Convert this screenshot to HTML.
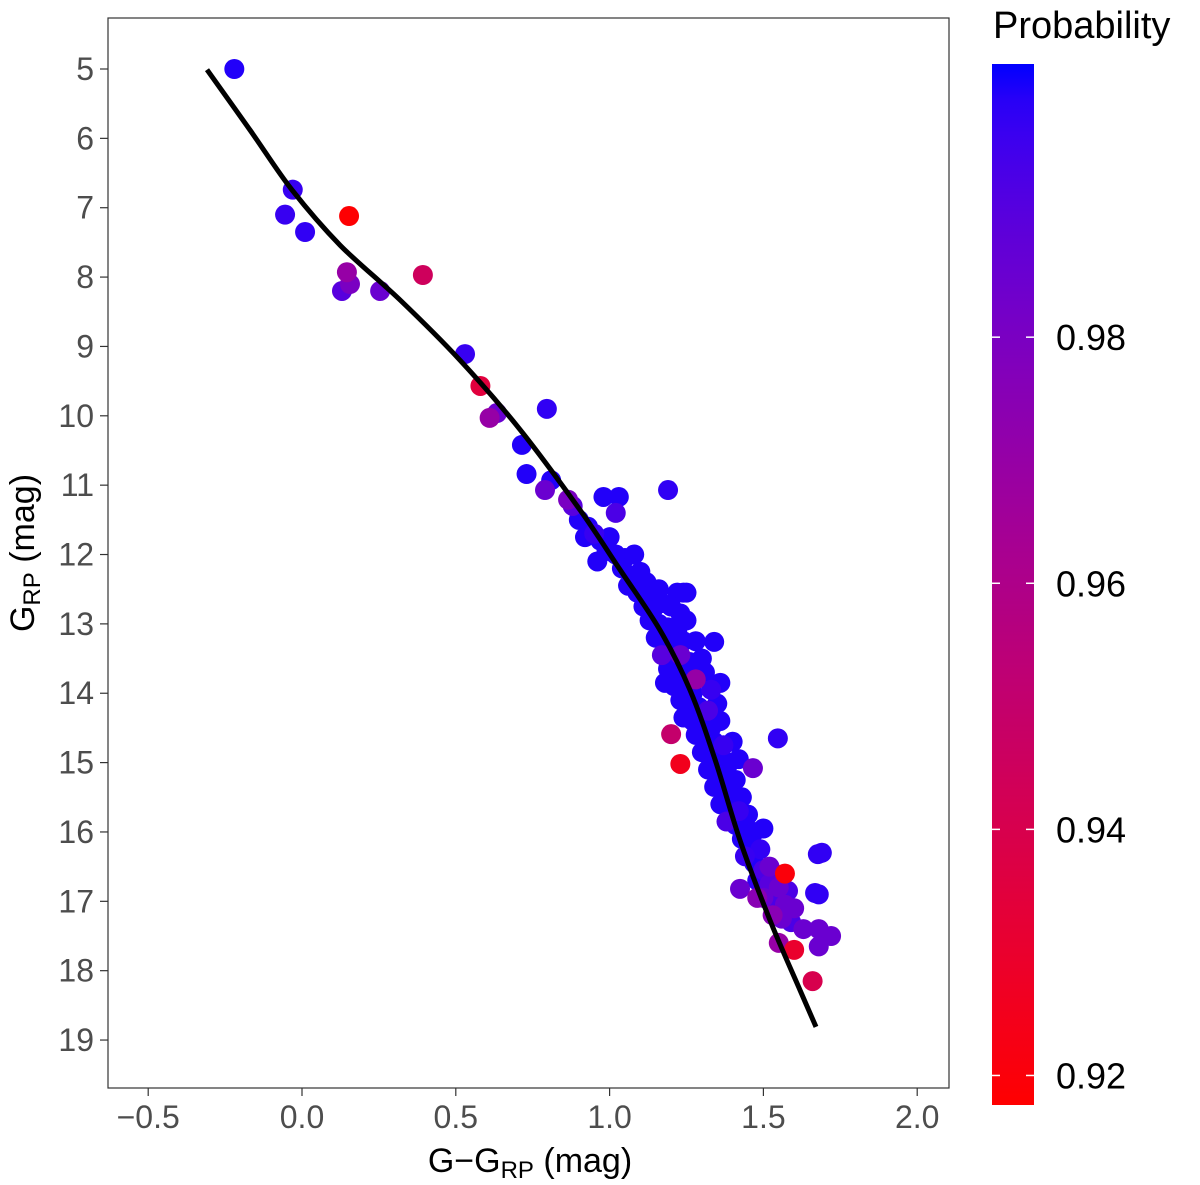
<!DOCTYPE html>
<html><head><meta charset="utf-8"><style>
html,body{margin:0;padding:0;background:#fff;}
svg{display:block;font-family:"Liberation Sans",sans-serif;}
</style></head><body>
<svg id="chart" width="1200" height="1185" viewBox="0 0 1200 1185">
<defs>
<linearGradient id="cbgrad" x1="0" y1="1" x2="0" y2="0"></linearGradient>
</defs>
<rect x="108" y="18" width="841" height="1070" fill="#fff" stroke="#333" stroke-width="1.2"/>
<g id="points"></g>
<g id="curve"></g>
<g id="xaxis"></g>
<g id="yaxis"></g>
<text x="530" y="1172" text-anchor="middle" font-size="34" fill="#000">G−G<tspan font-size="24" dy="6">RP</tspan><tspan dy="-6"> (mag)</tspan></text>
<text transform="translate(34,553) rotate(-90)" text-anchor="middle" font-size="34" fill="#000">G<tspan font-size="24" dy="6">RP</tspan><tspan dy="-6"> (mag)</tspan></text>
<text x="993" y="38" font-size="38" fill="#000">Probability</text>
<rect x="992" y="64" width="42" height="1041" fill="url(#cbgrad)"/>
<g id="legend"></g>
</svg>
<script>
const colorVals=[-0.22,-0.03,-0.055,0.01,0.153,0.146,0.156,0.13,0.254,0.393,0.53,0.58,0.796,0.634,0.61,0.715,0.73,0.81,0.79,0.865,0.98,1.03,1.02,1.19,1.547,1.2,1.23,1.466,1.677,1.424,1.668,1.48,1.34,1.36,1.24,1.28,
0.88,0.9,0.93,0.95,0.92,0.97,1.0,0.99,1.02,1.05,1.08,0.96,
1.04,1.07,1.1,1.12,1.06,1.09,1.13,1.16,1.22,1.25,1.11,1.14,1.17,1.2,1.23,1.25,1.13,1.16,1.19,1.22,
1.15,1.18,1.21,1.24,1.28,1.17,1.2,1.23,1.26,1.3,1.19,1.22,1.25,1.28,1.31,1.18,1.21,1.24,1.27,1.33,
1.23,1.26,1.29,1.32,1.35,1.24,1.27,1.3,1.33,1.36,1.28,1.31,1.34,1.37,1.4,1.3,1.33,1.36,1.39,1.42,
1.32,1.35,1.38,1.41,1.34,1.37,1.4,1.43,1.36,1.39,1.42,1.45,1.38,1.41,1.44,1.47,1.5,
1.43,1.46,1.49,1.44,1.47,1.5,1.53,1.48,1.52,1.55,1.58,1.5,1.54,1.57,1.6,1.53,1.56,1.59,
1.69,1.68,1.68,1.72,1.68,1.63,1.55,1.6,1.66,1.57,1.52];
const magVals=[5.0,6.74,7.1,7.35,7.12,7.93,8.1,8.2,8.2,7.97,9.11,9.57,9.9,9.96,10.03,10.42,10.84,10.93,11.07,11.21,11.17,11.17,11.4,11.07,14.65,14.59,15.02,15.08,16.32,16.82,16.88,16.95,13.26,13.85,12.55,13.8,
11.3,11.5,11.6,11.7,11.75,11.8,11.75,11.95,12.0,12.05,12.0,12.1,
12.2,12.3,12.25,12.4,12.45,12.55,12.6,12.5,12.55,12.55,12.75,12.8,12.7,12.75,12.85,12.95,12.95,13.0,13.05,13.1,
13.2,13.25,13.3,13.25,13.25,13.45,13.5,13.45,13.55,13.5,13.65,13.7,13.75,13.8,13.7,13.85,13.9,13.95,14.0,13.95,
14.1,14.15,14.2,14.25,14.15,14.35,14.4,14.45,14.5,14.4,14.6,14.65,14.7,14.75,14.7,14.85,14.9,14.95,15.0,14.95,
15.1,15.15,15.2,15.25,15.35,15.4,15.45,15.5,15.6,15.65,15.7,15.75,15.85,15.9,15.95,16.0,15.95,
16.1,16.2,16.25,16.35,16.45,16.55,16.6,16.7,16.75,16.8,16.85,16.95,17.0,17.05,17.1,17.2,17.25,17.3,
16.3,16.9,17.4,17.5,17.65,17.4,17.6,17.7,18.15,16.6,16.5];
const probVals=[1.0,0.997,0.997,0.998,0.918,0.97,0.98,0.99,0.985,0.945,0.997,0.935,0.998,0.985,0.97,1.0,1.0,1.0,0.985,0.98,1.0,1.0,0.993,0.998,0.998,0.95,0.925,0.985,0.998,0.985,0.998,0.975,1.0,1.0,1.0,0.97,
0.99,1.0,1.0,0.997,1.0,1.0,1.0,1.0,1.0,1.0,1.0,1.0,
1.0,1.0,1.0,1.0,1.0,1.0,1.0,1.0,1.0,1.0,1.0,1.0,1.0,1.0,1.0,1.0,1.0,1.0,1.0,1.0,
1.0,1.0,1.0,1.0,1.0,0.99,1.0,0.985,1.0,1.0,1.0,1.0,1.0,1.0,1.0,1.0,1.0,1.0,1.0,0.997,
1.0,1.0,1.0,0.993,1.0,1.0,1.0,1.0,1.0,1.0,1.0,1.0,1.0,0.997,1.0,1.0,1.0,1.0,1.0,1.0,
1.0,1.0,1.0,1.0,1.0,1.0,1.0,1.0,1.0,1.0,0.997,1.0,0.993,1.0,1.0,1.0,1.0,
1.0,1.0,0.998,0.997,1.0,0.993,1.0,0.998,0.99,0.985,0.993,0.985,0.993,0.985,0.985,0.975,0.985,0.993,
0.998,0.998,0.985,0.985,0.985,0.985,0.97,0.93,0.94,0.92,0.985];
const curveColor=[-0.309,-0.169,-0.033,0.124,0.319,0.514,0.709,0.904,1.034,1.164,1.261,1.343,1.424,1.521,1.619,1.671];
const curveMag=[5.01,5.88,6.74,7.54,8.33,9.20,10.20,11.36,12.22,13.09,13.95,14.96,16.12,17.27,18.28,18.81];
const xTicks=[-0.5,0.0,0.5,1.0,1.5,2.0];
const xTickLabels=["−0.5","0.0","0.5","1.0","1.5","2.0"];
const yTicks=[5,6,7,8,9,10,11,12,13,14,15,16,17,18,19];
const legendTicks=[0.92,0.94,0.96,0.98];
const probMin=0.9176, probMax=1.0022;

const NS="http://www.w3.org/2000/svg";
function xs(v){return 302+v*307.6;}
function ys(v){return 69+(v-5)*69.36;}
function ps(p){return 1105-(p-probMin)/(probMax-probMin)*1041;}
function pcol(p){let t=(p-probMin)/(probMax-probMin);t=Math.max(0,Math.min(1,t));
 const r=Math.round(255*Math.pow(1-t,0.55)), b=Math.round(255*Math.pow(t,0.9));return `rgb(${r},0,${b})`;}
function mk(tag,attrs,parent){const e=document.createElementNS(NS,tag);for(const k in attrs)e.setAttribute(k,attrs[k]);parent.appendChild(e);return e;}

const grad=document.getElementById('cbgrad');
for(let i=0;i<=30;i++){const p=probMin+(probMax-probMin)*i/30;mk('stop',{offset:(i/30),'stop-color':pcol(p)},grad);}

const pg=document.getElementById('points');
const order=colorVals.map((_,i)=>i).sort((a,b)=>probVals[b]-probVals[a]);
order.forEach(i=>{
 const c=mk('circle',{cx:xs(colorVals[i]),cy:ys(magVals[i]),r:10,fill:pcol(probVals[i])},pg);
 
 
});

const cg=document.getElementById('curve');
const P=curveColor.map((c,i)=>[xs(c),ys(curveMag[i])]);
let d='M'+P[0][0].toFixed(1)+','+P[0][1].toFixed(1);
for(let i=0;i<P.length-1;i++){
 const p0=P[Math.max(0,i-1)],p1=P[i],p2=P[i+1],p3=P[Math.min(P.length-1,i+2)];
 const c1=[p1[0]+(p2[0]-p0[0])/6,p1[1]+(p2[1]-p0[1])/6];
 const c2=[p2[0]-(p3[0]-p1[0])/6,p2[1]-(p3[1]-p1[1])/6];
 d+=`C${c1[0].toFixed(1)},${c1[1].toFixed(1)} ${c2[0].toFixed(1)},${c2[1].toFixed(1)} ${p2[0].toFixed(1)},${p2[1].toFixed(1)}`;
}
const path=mk('path',{d:d,fill:'none',stroke:'#000','stroke-width':5,'stroke-linejoin':'round'},cg);



const xg=document.getElementById('xaxis');
xTicks.forEach((v,i)=>{
 mk('line',{x1:xs(v),x2:xs(v),y1:1088,y2:1096,stroke:'#333','stroke-width':1.2},xg);
 const t=mk('text',{x:xs(v),y:1128,'text-anchor':'middle','font-size':32,fill:'#4d4d4d'},xg);
 t.textContent=xTickLabels[i];
 
 
});
const yg=document.getElementById('yaxis');
yTicks.forEach(v=>{
 mk('line',{x1:100,x2:108,y1:ys(v),y2:ys(v),stroke:'#333','stroke-width':1.2},yg);
 const t=mk('text',{x:94,y:ys(v)+11,'text-anchor':'end','font-size':32,fill:'#4d4d4d'},yg);
 t.textContent=String(v);
 
 
});
const lg=document.getElementById('legend');
legendTicks.forEach(v=>{
 mk('line',{x1:992,x2:1000,y1:ps(v),y2:ps(v),stroke:'#fff','stroke-width':1.5},lg);
 mk('line',{x1:1026,x2:1034,y1:ps(v),y2:ps(v),stroke:'#fff','stroke-width':1.5},lg);
 const t=mk('text',{x:1056,y:ps(v)+13,'font-size':36,fill:'#000'},lg);
 t.textContent=v.toFixed(2);
 
 
});
</script>
</body></html>
